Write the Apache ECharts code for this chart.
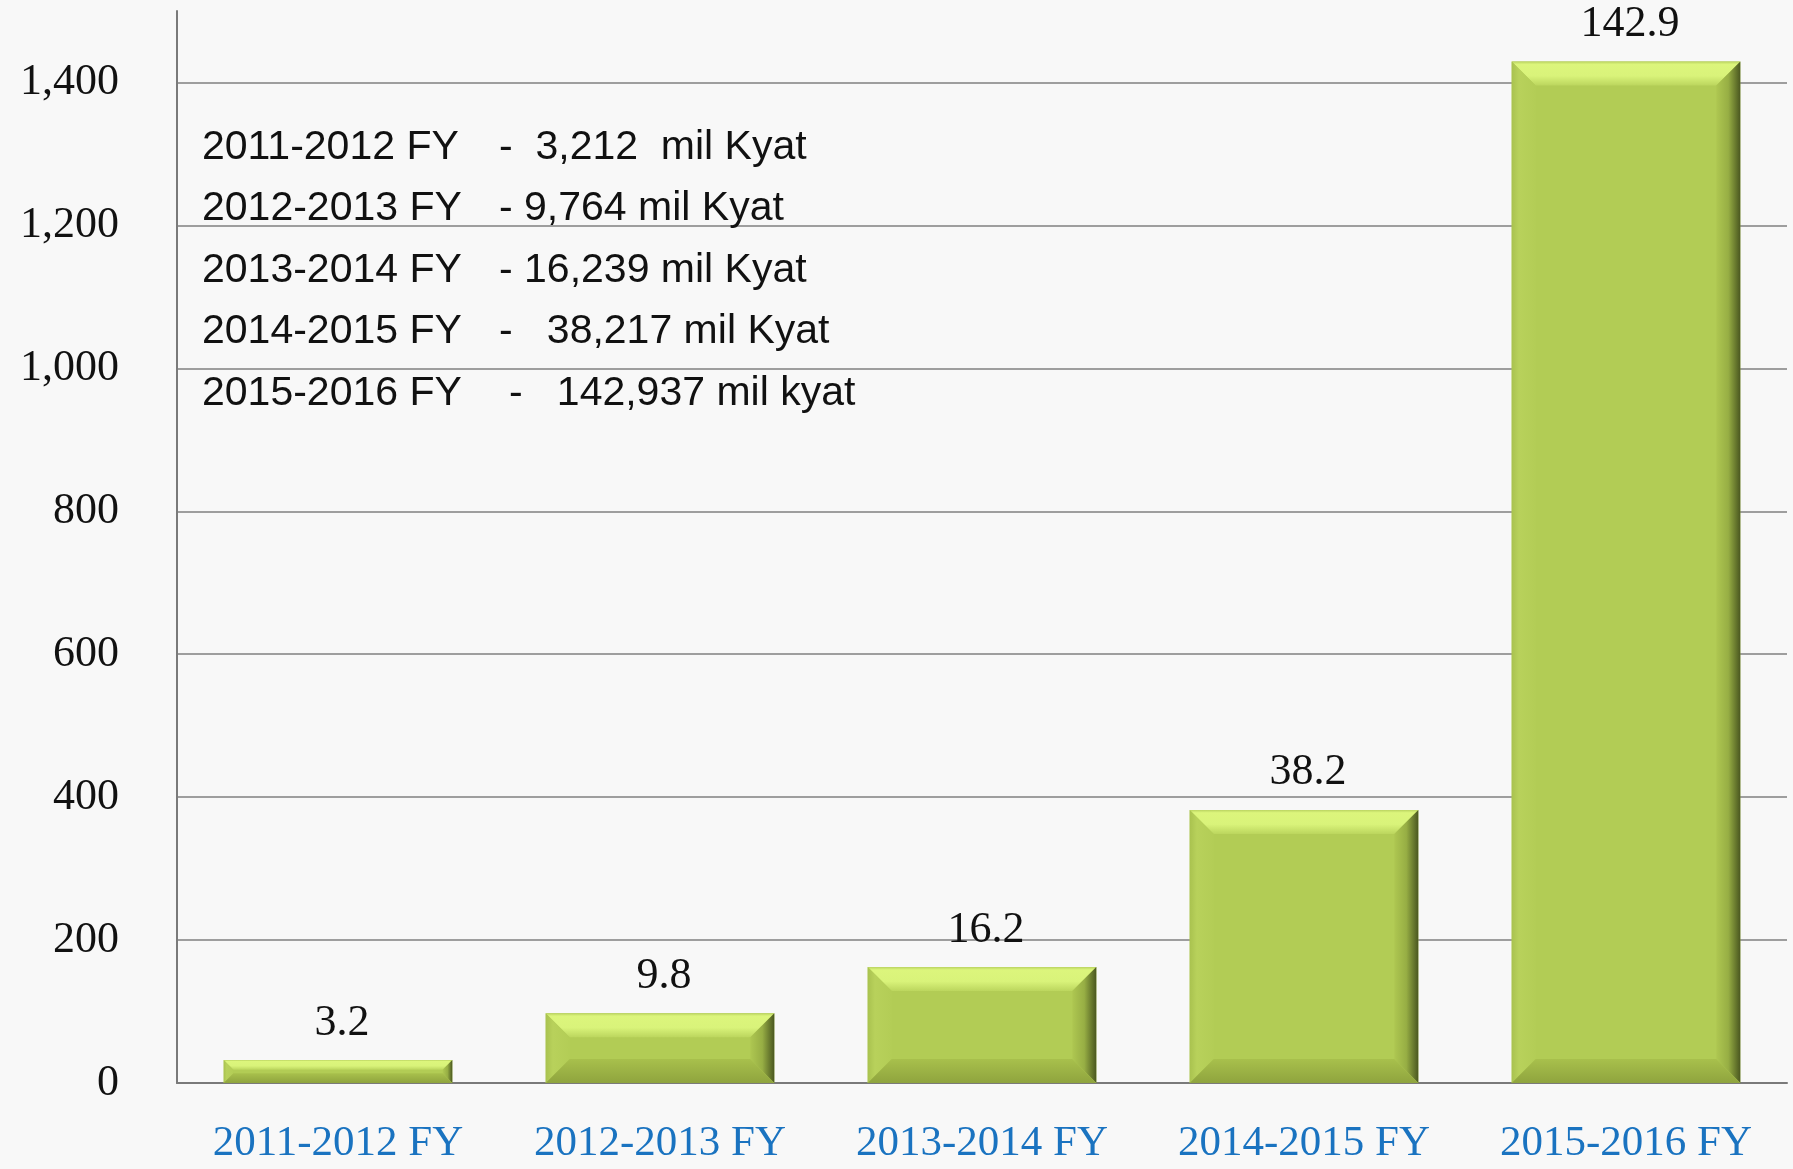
<!DOCTYPE html>
<html>
<head>
<meta charset="utf-8">
<script src="https://cdn.jsdelivr.net/npm/echarts@6/dist/echarts.min.js"></script>
<style>
html,body{margin:0;padding:0;background:#f8f8f8;}
#chart{width:1793px;height:1169px;}
</style>
</head>
<body>
<div id="chart"></div>
<script>
// ---- data ----
var categories = ['2011-2012 FY', '2012-2013 FY', '2013-2014 FY', '2014-2015 FY', '2015-2016 FY'];
// bar heights on the axis scale (hundred million Kyat)
var values = [32.12, 97.64, 162.39, 382.17, 1429.37];
// printed labels above the bars (thousand million Kyat)
var valueLabels = ['3.2', '9.8', '16.2', '38.2', '142.9'];
var yTicks = [0, 200, 400, 600, 800, 1000, 1200, 1400];
var noteYears = ['2011-2012 FY', '2012-2013 FY', '2013-2014 FY', '2014-2015 FY', '2015-2016 FY'];
var noteAmounts = ['-  3,212  mil Kyat', '- 9,764 mil Kyat', '- 16,239 mil Kyat', '-   38,217 mil Kyat', '-   142,937 mil kyat'];

var chart = echarts.init(document.getElementById('chart'));

var serif = '"Liberation Serif", "DejaVu Serif", serif';
var sans = '"Liberation Sans", "DejaVu Sans", sans-serif';

function renderBar(params, api) {
  var idx = api.value(0);
  var v = api.value(1);
  var top = api.coord([idx, v]);
  var base = api.coord([idx, 0]);
  var bw = api.size([1, 0])[0] * 0.71;
  var x0 = top[0] - bw / 2, x1 = top[0] + bw / 2;
  var y0 = top[1], y1 = base[1];
  var h = y1 - y0, w = bw;
  var b = Math.min(24, h * 0.42, w * 0.2);
  var children = [
    {type: 'rect', shape: {x: x0, y: y0, width: w, height: h}, style: {fill: '#b2cc55'}},
    // top bevel
    {type: 'polygon', shape: {points: [[x0, y0], [x1, y0], [x1 - b, y0 + b], [x0 + b, y0 + b]]},
      style: {fill: new echarts.graphic.LinearGradient(0, 0, 0, 1, [
        {offset: 0, color: '#b9d260'}, {offset: 0.12, color: '#dcf57c'}, {offset: 0.6, color: '#d9f37a'}, {offset: 1, color: '#bcd65e'}])}},
    // left bevel
    {type: 'polygon', shape: {points: [[x0, y0], [x0 + b, y0 + b], [x0 + b, y1 - b], [x0, y1]]},
      style: {fill: new echarts.graphic.LinearGradient(0, 0, 1, 0, [
        {offset: 0, color: '#a9c24f'}, {offset: 0.3, color: '#b8d15b'}, {offset: 1, color: '#b3cd56'}])}},
    // right bevel
    {type: 'polygon', shape: {points: [[x1, y0], [x1, y1], [x1 - b, y1 - b], [x1 - b, y0 + b]]},
      style: {fill: new echarts.graphic.LinearGradient(0, 0, 1, 0, [
        {offset: 0, color: '#aec751'}, {offset: 0.5, color: '#97ae44'}, {offset: 1, color: '#4a5720'}])}},
    // bottom bevel
    {type: 'polygon', shape: {points: [[x0, y1], [x1, y1], [x1 - b, y1 - b], [x0 + b, y1 - b]]},
      style: {fill: new echarts.graphic.LinearGradient(0, 0, 0, 1, [
        {offset: 0, color: '#a8c04c'}, {offset: 1, color: '#8fa43e'}])}},
    // value label
    {type: 'text', style: {text: valueLabels[idx], x: top[0] + 4, y: y0 - 15,
      align: 'center', verticalAlign: 'bottom', font: '44px ' + serif, fill: '#111'}}
  ];
  return {type: 'group', children: children};
}

var noteGraphics = [];
for (var i = 0; i < noteYears.length; i++) {
  var yy = 150 + i * 61.5;
  noteGraphics.push({type: 'text', left: 202, top: yy - 23, z: 10,
    style: {text: noteYears[i], font: '41px ' + sans, fill: '#111'}});
  noteGraphics.push({type: 'text', left: (i === 4 ? 509 : 499), top: yy - 23, z: 10,
    style: {text: noteAmounts[i], font: '41px ' + sans, fill: '#111'}});
}

var option = {
  backgroundColor: '#f8f8f8',
  animation: false,
  grid: {left: 177, right: 6, top: 11, bottom: 86, containLabel: false},
  xAxis: {
    type: 'category',
    data: categories,
    axisTick: {show: false},
    axisLine: {show: true, lineStyle: {color: '#7a7a7a', width: 2}},
    axisLabel: {color: '#1a73c0', fontFamily: serif, fontSize: 43, margin: 39, interval: 0, hideOverlap: false}
  },
  yAxis: {
    type: 'value',
    min: 0, max: 1500, interval: 200,
    axisLine: {show: true, lineStyle: {color: '#7a7a7a', width: 2}},
    axisTick: {show: false},
    axisLabel: {
      color: '#111', fontFamily: serif, fontSize: 44, margin: 58, showMaxLabel: false,
      formatter: function (v) { return yTicks.indexOf(v) >= 0 ? v.toLocaleString('en-US') : ''; }
    },
    splitLine: {show: true, showMaxLine: false, lineStyle: {color: '#808080', width: 1.5}}
  },
  series: [{
    type: 'custom',
    renderItem: renderBar,
    encode: {x: 0, y: 1},
    data: values.map(function (v, i) { return [i, v]; }),
    clip: false,
    z: 5
  }],
  graphic: noteGraphics
};
chart.setOption(option);
</script>
</body>
</html>
